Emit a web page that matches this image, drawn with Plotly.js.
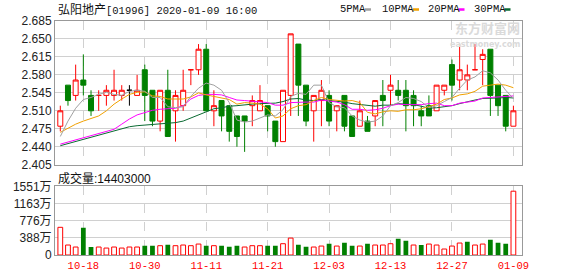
<!DOCTYPE html>
<html><head><meta charset="utf-8">
<script src="https://cdn.plot.ly/plotly-3.0.1.min.js"></script>
<style>html,body{margin:0;padding:0;background:#fff}#chart{width:578px;height:276px}</style>
</head><body><div id="chart"></div>
<script>
const dates = ['10-15','10-16','10-17','10-18','10-21','10-22','10-23','10-24','10-25','10-28',
'10-29','10-30','10-31','11-01','11-04','11-05','11-06','11-07','11-08','11-11',
'11-12','11-13','11-14','11-15','11-18','11-19','11-20','11-21','11-22','11-25',
'11-26','11-27','11-28','11-29','12-02','12-03','12-04','12-05','12-06','12-09',
'12-10','12-11','12-12','12-13','12-16','12-17','12-18','12-19','12-20','12-23',
'12-24','12-27','12-30','12-31','01-02','01-03','01-06','01-07','01-08','01-09'];
const openP = [2.48,2.56,2.54,2.57,2.54,2.54,2.54,2.54,2.54,2.55,
2.54,2.59,2.55,2.49,2.55,2.51,2.52,2.59,2.59,2.63,
2.51,2.53,2.52,2.50,2.50,2.52,2.51,2.52,2.49,2.45,
2.54,2.64,2.56,2.51,2.53,2.54,2.51,2.54,2.50,2.48,
2.49,2.50,2.54,2.55,2.55,2.55,2.54,2.51,2.52,2.51,
2.55,2.60,2.57,2.57,2.59,2.61,2.63,2.56,2.54,2.48];
const highP = [2.52,2.56,2.60,2.62,2.55,2.55,2.56,2.59,2.56,2.56,
2.58,2.60,2.55,2.55,2.59,2.55,2.59,2.59,2.64,2.64,
2.55,2.53,2.52,2.50,2.50,2.54,2.56,2.52,2.49,2.55,
2.66,2.64,2.56,2.54,2.57,2.55,2.52,2.54,2.50,2.53,
2.50,2.53,2.57,2.58,2.57,2.57,2.55,2.52,2.54,2.56,
2.56,2.61,2.64,2.60,2.64,2.63,2.63,2.56,2.54,2.52];
const lowP = [2.47,2.52,2.53,2.54,2.50,2.51,2.52,2.53,2.53,2.52,
2.54,2.49,2.48,2.47,2.46,2.45,2.51,2.56,2.58,2.51,
2.48,2.47,2.45,2.44,2.43,2.48,2.51,2.47,2.44,2.45,
2.50,2.50,2.48,2.45,2.48,2.48,2.47,2.47,2.46,2.48,
2.47,2.48,2.48,2.52,2.53,2.47,2.48,2.48,2.50,2.51,
2.54,2.53,2.55,2.55,2.59,2.56,2.50,2.50,2.47,2.48];
const closeP = [2.51,2.53,2.57,2.56,2.51,2.54,2.55,2.55,2.55,2.55,
2.55,2.54,2.49,2.55,2.46,2.54,2.55,2.59,2.63,2.51,
2.52,2.50,2.47,2.46,2.49,2.53,2.53,2.50,2.45,2.55,
2.66,2.56,2.49,2.54,2.55,2.49,2.52,2.48,2.46,2.51,
2.47,2.53,2.53,2.56,2.54,2.52,2.52,2.50,2.50,2.56,
2.56,2.56,2.59,2.58,2.59,2.62,2.54,2.52,2.48,2.51];
const volume = [6250000,2250000,1800000,6170000,1800000,1800000,1570000,1800000,1570000,1800000,
1800000,2100000,2100000,2100000,2320000,2100000,2250000,2100000,2470000,2100000,
2100000,2100000,1870000,2100000,1800000,2100000,2100000,2100000,2100000,2550000,
3820000,2320000,1870000,1800000,2020000,2550000,2020000,2770000,2100000,2020000,
2550000,2250000,2250000,2550000,3670000,3220000,2250000,2250000,2470000,2250000,
1350000,2020000,2700000,3000000,2250000,2470000,3450000,2770000,2550000,14403000];
const ma5 = [2.460,2.490,2.515,2.532,2.536,2.542,2.546,2.542,2.540,2.548,
2.550,2.548,2.536,2.536,2.518,2.516,2.518,2.538,2.554,2.564,
2.560,2.550,2.526,2.492,2.488,2.490,2.496,2.502,2.500,2.512,
2.538,2.544,2.542,2.560,2.560,2.526,2.518,2.516,2.500,2.492,
2.488,2.490,2.500,2.520,2.526,2.536,2.534,2.528,2.516,2.520,
2.528,2.536,2.554,2.570,2.576,2.588,2.584,2.570,2.550,2.534];
const ma10 = [2.468,2.476,2.484,2.490,2.495,2.500,2.510,2.523,2.533,2.542,
2.546,2.547,2.539,2.538,2.533,2.533,2.533,2.537,2.545,2.541,
2.538,2.534,2.532,2.523,2.526,2.525,2.523,2.514,2.496,2.500,
2.514,2.520,2.522,2.530,2.536,2.532,2.531,2.529,2.530,2.526,
2.507,2.504,2.508,2.510,2.509,2.512,2.512,2.514,2.518,2.523,
2.532,2.535,2.541,2.543,2.548,2.558,2.560,2.562,2.560,2.555];
const ma20 = [2.445,2.449,2.453,2.457,2.461,2.465,2.469,2.474,2.484,2.494,
2.502,2.507,2.511,2.513,2.514,2.515,2.520,2.533,2.540,2.542,
2.542,2.541,2.536,2.531,2.530,2.529,2.528,2.526,2.521,2.521,
2.526,2.527,2.527,2.527,2.531,2.529,2.527,2.522,2.513,2.513,
2.511,2.512,2.515,2.520,2.523,2.522,2.522,2.522,2.524,2.525,
2.520,2.520,2.525,2.527,2.529,2.535,2.536,2.538,2.539,2.539];
const ma30 = [2.442,2.446,2.450,2.454,2.459,2.463,2.467,2.471,2.475,2.479,
2.481,2.482,2.483,2.484,2.485,2.487,2.490,2.496,2.503,2.509,
2.514,2.516,2.519,2.520,2.522,2.523,2.524,2.525,2.525,2.528,
2.533,2.534,2.531,2.530,2.532,2.530,2.529,2.527,2.524,2.522,
2.520,2.519,2.521,2.521,2.524,2.523,2.522,2.519,2.515,2.516,
2.518,2.520,2.524,2.528,2.531,2.534,2.534,2.535,2.536,2.535];
const priceTicks = [2.405,2.440,2.475,2.510,2.545,2.580,2.615,2.650,2.685];
const volTicks = [0,3880000,7760000,11630000,15510000];
const volTickText = ['0','388万','776万','1163万','1551万'];
const dateTicks = ['10-18','10-30','11-11','11-21','12-03','12-13','12-27','01-09'];
const maNames = ['5PMA','10PMA','20PMA','30PMA'];
const titleName = '弘阳地产';
const titleCode = '[01996] 2020-01-09 16:00';
const volLabel = '成交量';

// ---- styling / layout ----
const RED = '#ff0000', GREEN = '#008000';
const maColors = ['#a0a0a0','#f0a000','#ff00ff','#0a6a32'];
const W = 578, H = 276, L = 55, R = 522, T = 21, B = 255;
const px = x => (x - L) / (R - L);
const py = y => (B - y) / (B - T);
const n = dates.length;
const pick = (arr, idx) => idx.map(i => arr[i]);

function candleDir(i) {
  if (closeP[i] > openP[i]) return 1;
  if (closeP[i] < openP[i]) return -1;
  if (i === 0) return 0;
  return closeP[i] > closeP[i-1] ? 1 : (closeP[i] < closeP[i-1] ? -1 : 0);
}
const upIdx = [], downIdx = [], flatIdx = [];
for (let i = 0; i < n; i++) { const d = candleDir(i); (d > 0 ? upIdx : d < 0 ? downIdx : flatIdx).push(i); }

function candleTrace(idx, color, fill) {
  const st = {line: {color: color, width: 1}, fillcolor: fill};
  return {type: 'candlestick', x: pick(dates, idx), open: pick(openP, idx), high: pick(highP, idx),
    low: pick(lowP, idx), close: pick(closeP, idx), xaxis: 'x', yaxis: 'y',
    increasing: st, decreasing: st, whiskerwidth: 0, hoverinfo: 'skip', showlegend: false};
}
const volUp = [], volDown = [];
for (let i = 0; i < n; i++) { (i === 0 || closeP[i] >= closeP[i-1] ? volUp : volDown).push(i); }

const traces = [
  candleTrace(upIdx, RED, '#ffffff'),
  candleTrace(downIdx, GREEN, GREEN),
  candleTrace(flatIdx, '#000000', '#000000'),
];
[ma30, ma20, ma10, ma5].forEach((m, k) => {
  const ci = 3 - k;
  traces.push({type: 'scatter', mode: 'lines', x: dates, y: m, xaxis: 'x', yaxis: 'y',
    line: {color: maColors[ci], width: 1}, hoverinfo: 'skip', showlegend: false});
});
traces.push({type: 'bar', x: pick(dates, volUp), y: pick(volume, volUp), xaxis: 'x2', yaxis: 'y2', width: 0.62,
  marker: {color: '#ffffff', line: {color: RED, width: 1}}, hoverinfo: 'skip', showlegend: false});
traces.push({type: 'bar', x: pick(dates, volDown), y: pick(volume, volDown), xaxis: 'x2', yaxis: 'y2', width: 0.62,
  marker: {color: GREEN, line: {width: 0}}, hoverinfo: 'skip', showlegend: false});

const xRange = [-0.69, 60.12];
const gridC = '#d0d0d0', borderC = '#999999';
const xCommon = {type: 'category', categoryorder: 'array', categoryarray: dates, range: xRange,
  tickmode: 'array', tickvals: dateTicks, showgrid: true, gridcolor: gridC, griddash: 'dash', gridwidth: 1,
  showline: true, linecolor: borderC, linewidth: 1, mirror: true, ticks: '', zeroline: false, fixedrange: true};

const annotations = [];
annotations.push({xref: 'paper', yref: 'paper', x: px(56), y: py(9), xanchor: 'left', yanchor: 'middle', showarrow: false,
  text: '<span style="font-family:\'Noto Sans CJK SC\';font-size:12px">' + titleName + '</span>' + titleCode,
  font: {family: 'Liberation Mono', size: 10.5, color: '#111'}});
annotations.push({xref: 'paper', yref: 'paper', x: px(56), y: py(177), xanchor: 'left', yanchor: 'middle', showarrow: false,
  text: '<span style="font-family:\'Noto Sans CJK SC\';font-size:12px">' + volLabel + '</span>:' + volume[n-1],
  font: {family: 'Liberation Sans', size: 12, color: '#111'}});
const legX = [338, 380, 425.5, 471.5];
const shapes = [];
maNames.forEach((nm, k) => {
  annotations.push({xref: 'paper', yref: 'paper', x: px(legX[k]), y: py(9), xanchor: 'left', yanchor: 'middle', showarrow: false,
    text: nm, font: {family: 'Liberation Mono', size: 10.5, color: '#111'}});
  const x0 = legX[k] + nm.length * 6 + 3;
  shapes.push({type: 'line', xref: 'paper', yref: 'paper', x0: px(x0), x1: px(x0 + 6), y0: py(9.5), y1: py(9.5),
    line: {color: maColors[k], width: 2.5}});
});
annotations.push({xref: 'paper', yref: 'paper', x: px(521), y: py(38), xanchor: 'right', yanchor: 'bottom', showarrow: false,
  borderpad: 0, text: '<b>东方财富网</b>', font: {family: 'Noto Sans CJK SC', size: 13, color: '#dadada'}});
annotations.push({xref: 'paper', yref: 'paper', x: px(521), y: py(39), xanchor: 'right', yanchor: 'top', showarrow: false,
  borderpad: 0, text: '<b>eastmoney.com</b>', font: {family: 'DejaVu Sans', size: 8, color: '#dadada'}});

const layout = {
  width: W, height: H, margin: {l: L, r: W - R, t: T, b: H - B, pad: 0},
  paper_bgcolor: '#fff', plot_bgcolor: '#fff', showlegend: false, hovermode: false,
  boxgap: 0.35, boxgroupgap: 0, barmode: 'overlay', dragmode: false,
  xaxis: Object.assign({}, xCommon, {anchor: 'y', showticklabels: false, rangeslider: {visible: false}}),
  xaxis2: Object.assign({}, xCommon, {anchor: 'y2', matches: 'x', showticklabels: true,
    tickfont: {family: 'Liberation Mono', size: 10.5, color: RED}}),
  yaxis: {domain: [py(164.7), 1], range: [priceTicks[0], priceTicks[priceTicks.length-1]], tickmode: 'array',
    tickvals: priceTicks, ticktext: priceTicks.map(v => v.toFixed(3)), showgrid: true, gridcolor: gridC,
    showline: true, linecolor: borderC, mirror: true, ticks: '', zeroline: false, fixedrange: true,
    tickfont: {family: 'Liberation Sans', size: 12, color: '#222'}},
  yaxis2: {domain: [0, py(186.3)], range: [0, volTicks[volTicks.length-1]], tickmode: 'array',
    tickvals: volTicks, ticktext: volTickText, showgrid: true, gridcolor: gridC,
    showline: true, linecolor: borderC, mirror: true, ticks: '', zeroline: false, fixedrange: true,
    tickfont: {family: 'Liberation Sans, Noto Sans CJK SC', size: 12, color: '#222'}},
  annotations: annotations, shapes: shapes
};
Plotly.newPlot('chart', traces, layout, {staticPlot: true, displayModeBar: false});
</script></body></html>
